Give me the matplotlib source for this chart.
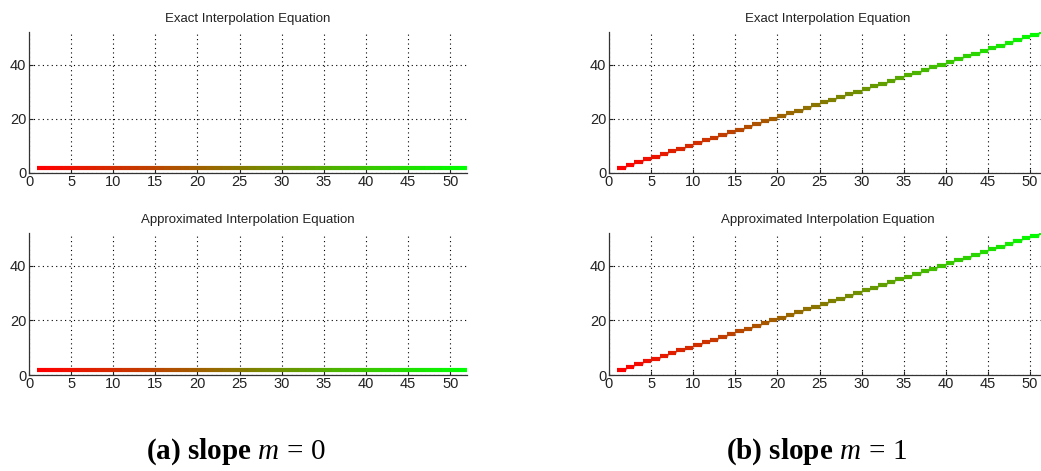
import numpy as np
import matplotlib
matplotlib.use("Agg")
import matplotlib.pyplot as plt
from matplotlib.collections import LineCollection

# Interpolation step start positions (each step spans [x, x+1])
step_x = [1, 2, 3, 4, 5, 6, 7, 8, 9, 10, 11, 12, 13, 14, 15, 16, 17, 18, 19, 20,
          21, 22, 23, 24, 25, 26, 27, 28, 29, 30, 31, 32, 33, 34, 35, 36, 37, 38, 39, 40,
          41, 42, 43, 44, 45, 46, 47, 48, 49, 50, 51]

# slope m = 0: every step sits at the same level
exact_m0 = [2] * 51
approx_m0 = [2] * 51

# slope m = 1: each step rises by one
exact_m1 = [2, 3, 4, 5, 6, 7, 8, 9, 10, 11, 12, 13, 14, 15, 16, 17, 18, 19, 20, 21,
            22, 23, 24, 25, 26, 27, 28, 29, 30, 31, 32, 33, 34, 35, 36, 37, 38, 39, 40, 41,
            42, 43, 44, 45, 46, 47, 48, 49, 50, 51, 52]
approx_m1 = list(exact_m1)

x_ticks = [0, 5, 10, 15, 20, 25, 30, 35, 40, 45, 50]
y_ticks = [0, 20, 40]
titles = ["Exact Interpolation Equation", "Approximated Interpolation Equation"]
captions = [r"(a) slope $m\,=\,0$", r"(b) slope $m\,=\,1$"]

plt.rcParams["font.family"] = ["Liberation Sans", "DejaVu Sans"]
plt.rcParams["mathtext.fontset"] = "custom"
plt.rcParams["mathtext.it"] = "Liberation Serif:italic"
plt.rcParams["mathtext.rm"] = "Liberation Serif"

fig = plt.figure(figsize=(10.41, 4.71), dpi=100)

W = 0.4207
positions = {
    (0, 0): [0.0279, 0.6327, W, 0.2994],
    (1, 0): [0.0279, 0.2038, W, 0.3015],
    (0, 1): [0.5850, 0.6327, W, 0.2994],
    (1, 1): [0.5850, 0.2038, W, 0.3015],
}
series = {
    (0, 0): exact_m0, (1, 0): approx_m0,
    (0, 1): exact_m1, (1, 1): approx_m1,
}


def draw_steps(ax, xs, ys):
    n = len(xs)
    t = np.linspace(0, 1, n)
    cols = np.column_stack([1 - t, t, np.zeros(n), np.ones(n)])
    light = cols.copy()
    light[:, :3] = light[:, :3] * 0.55 + 0.45
    # thin risers joining consecutive steps
    risers = [[(xs[i] + 1, ys[i]), (xs[i + 1], ys[i + 1])] for i in range(n - 1)]
    ax.add_collection(LineCollection(risers, colors=light[1:], linewidths=0.8))
    treads = [[(x, y), (x + 1, y)] for x, y in zip(xs, ys)]
    ax.add_collection(LineCollection(treads, colors=cols, linewidths=3.0,
                                     capstyle="butt"))


for (r, c), pos in positions.items():
    ax = fig.add_axes(pos)
    draw_steps(ax, step_x, series[(r, c)])
    ax.set_xlim(0, 52)
    ax.set_ylim(0, 52)
    ax.set_xticks(x_ticks)
    ax.set_yticks(y_ticks)
    ax.grid(True, linestyle=(0, (1, 3)), color="black", linewidth=0.8)
    ax.set_axisbelow(True)
    for s in ("top", "right"):
        ax.spines[s].set_visible(False)
    for s in ("left", "bottom"):
        ax.spines[s].set_color("#333333")
        ax.spines[s].set_linewidth(0.9)
    ax.tick_params(direction="in", length=3, labelsize=10.5, colors="#222222",
                   pad=2)
    ax.tick_params(axis="x", pad=1.5)
    ax.set_title(titles[r], fontsize=9.5, color="#222222", pad=7)

for xc, cap in zip([0.2265, 0.7845], captions):
    fig.text(xc, 0.008, cap, fontsize=21, family="Liberation Serif",
             weight="bold", ha="center", va="bottom")

fig.savefig("out.png", dpi=100)
